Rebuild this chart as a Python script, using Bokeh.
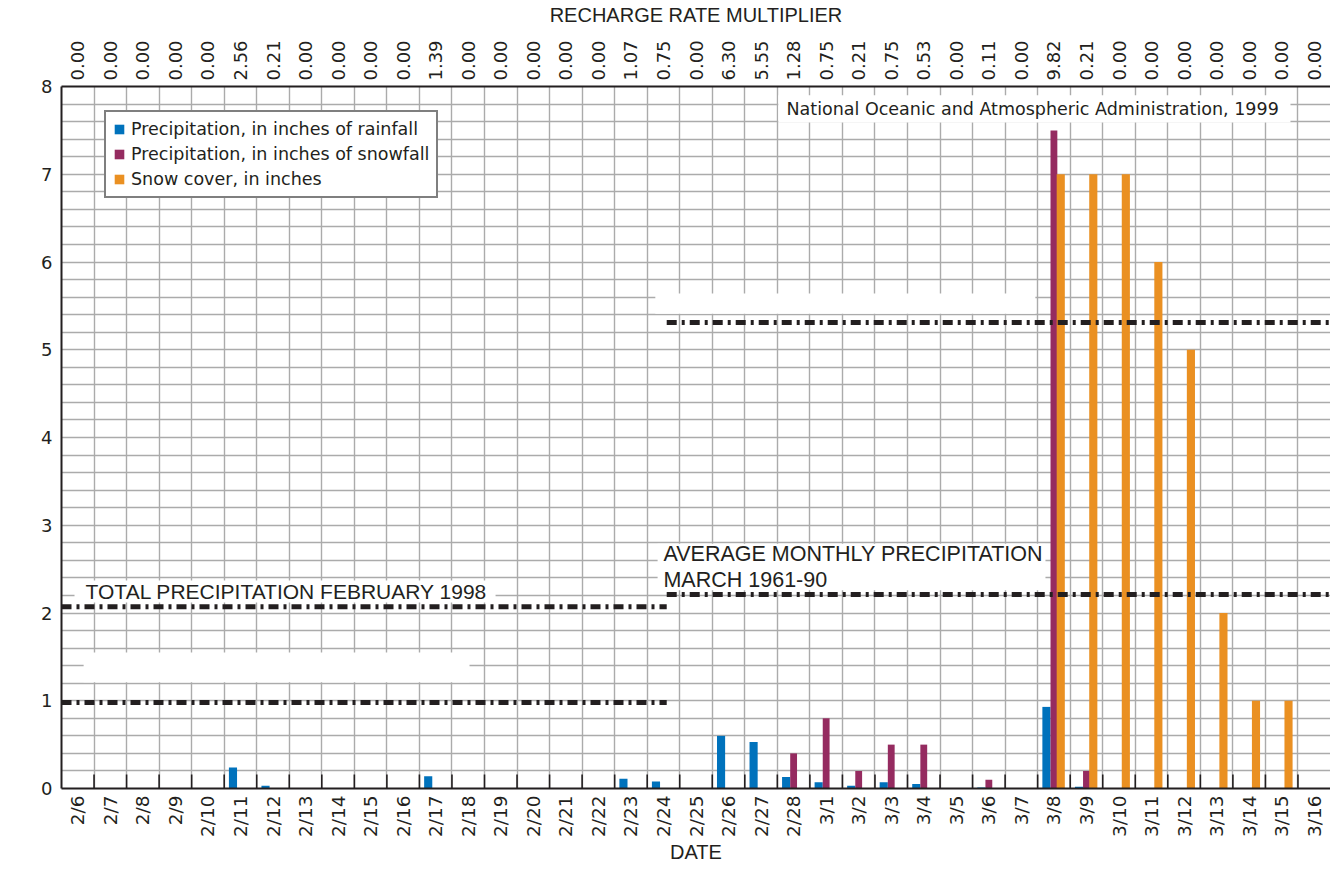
import numpy as np
from math import pi
from bokeh.plotting import figure
from bokeh.models import (Range1d, FixedTicker, CustomJSTickFormatter, LinearAxis,
                          BoxAnnotation, Label, ColumnDataSource)
from bokeh.transform import dodge
from bokeh.embed import file_html
from bokeh.resources import INLINE

# ---------------- data ----------------
dates = ["2/6", "2/7", "2/8", "2/9", "2/10", "2/11", "2/12", "2/13", "2/14", "2/15",
         "2/16", "2/17", "2/18", "2/19", "2/20", "2/21", "2/22", "2/23", "2/24", "2/25",
         "2/26", "2/27", "2/28", "3/1", "3/2", "3/3", "3/4", "3/5", "3/6", "3/7",
         "3/8", "3/9", "3/10", "3/11", "3/12", "3/13", "3/14", "3/15", "3/16"]

recharge = ["0.00", "0.00", "0.00", "0.00", "0.00", "2.56", "0.21", "0.00", "0.00", "0.00",
            "0.00", "1.39", "0.00", "0.00", "0.00", "0.00", "0.00", "1.07", "0.75", "0.00",
            "6.30", "5.55", "1.28", "0.75", "0.21", "0.75", "0.53", "0.00", "0.11", "0.00",
            "9.82", "0.21", "0.00", "0.00", "0.00", "0.00", "0.00", "0.00", "0.00"]

rainfall = [0, 0, 0, 0, 0, 0.24, 0.03, 0, 0, 0,
            0, 0.14, 0, 0, 0, 0, 0, 0.11, 0.08, 0,
            0.60, 0.53, 0.13, 0.07, 0.03, 0.07, 0.05, 0, 0.01, 0,
            0.93, 0.02, 0, 0, 0, 0, 0, 0, 0]

snowfall = [0, 0, 0, 0, 0, 0, 0, 0, 0, 0,
            0, 0, 0, 0, 0, 0, 0, 0, 0, 0,
            0, 0, 0.4, 0.8, 0.2, 0.5, 0.5, 0, 0.1, 0,
            7.5, 0.2, 0, 0, 0, 0, 0, 0, 0]

snow_cover = [0, 0, 0, 0, 0, 0, 0, 0, 0, 0,
              0, 0, 0, 0, 0, 0, 0, 0, 0, 0,
              0, 0, 0, 0, 0, 0, 0, 0, 0, 0,
              7, 7, 7, 6, 5, 2, 1, 1, 0]

# reference (dash-dot) levels, in inches, and their date-span (in day cells)
ref_levels = [0.98, 2.07, 2.21, 5.31]
ref_start = [0, 0, 18.6, 18.6]
ref_end = [18.6, 18.6, 39, 39]

# ---------------- styles ----------------
BLUE = "#0072BC"
PURPLE = "#952B60"
ORANGE = "#EA9022"
INK = "#231f20"
GRID = "#ababab"
WIDE = "DejaVu Sans"
NARROW = "Liberation Sans"

n = len(dates)
idx = np.arange(n)

p = figure(width=1330, height=869, output_backend="svg", toolbar_location=None,
           x_range=Range1d(0, n), y_range=Range1d(0, 8),
           min_border_left=61, min_border_right=0, min_border_top=86, min_border_bottom=81,
           background_fill_color="white", border_fill_color="white")
p.outline_line_color = None

# grid
p.xgrid.ticker = FixedTicker(ticks=list(range(n + 1)))
p.ygrid.ticker = FixedTicker(ticks=[round(i * 0.2, 1) for i in range(41)])
for g in (p.xgrid, p.ygrid):
    g.grid_line_color = GRID
    g.grid_line_width = 1.4

# bottom axis (dates)
cell_centers = list(idx + 0.5)
xb = p.below[0]
xb.ticker = FixedTicker(ticks=cell_centers)
xb.formatter = CustomJSTickFormatter(args=dict(labels=dates),
                                     code="return labels[Math.floor(tick)];")
xb.major_label_orientation = pi / 2
xb.major_tick_in = 0
xb.major_tick_out = 0
xb.minor_tick_line_color = None
xb.major_label_standoff = 7
xb.major_label_text_font = WIDE
xb.major_label_text_font_size = "18.5px"
xb.major_label_text_color = INK
xb.axis_line_color = INK
xb.axis_line_width = 2
xb.axis_label = "DATE"
xb.axis_label_standoff = 1
xb.axis_label_text_font = NARROW
xb.axis_label_text_font_size = "20px"
xb.axis_label_text_font_style = "normal"
xb.axis_label_text_color = INK

# top axis (recharge multiplier)
xt = LinearAxis(ticker=FixedTicker(ticks=cell_centers),
                formatter=CustomJSTickFormatter(args=dict(labels=recharge),
                                                code="return labels[Math.floor(tick)];"))
xt.major_label_orientation = pi / 2
xt.major_tick_in = 0
xt.major_tick_out = 0
xt.minor_tick_line_color = None
xt.major_label_standoff = 6
xt.major_label_text_font = WIDE
xt.major_label_text_font_size = "18px"
xt.major_label_text_color = INK
xt.axis_line_color = INK
xt.axis_line_width = 2
xt.axis_label = "RECHARGE RATE MULTIPLIER"
xt.axis_label_standoff = 11
xt.axis_label_text_font = NARROW
xt.axis_label_text_font_size = "20px"
xt.axis_label_text_font_style = "normal"
xt.axis_label_text_color = INK
p.add_layout(xt, "above")

# left axis
ya = p.left[0]
ya.ticker = FixedTicker(ticks=list(range(9)))
ya.major_tick_in = 0
ya.major_tick_out = 0
ya.minor_tick_line_color = None
ya.major_label_standoff = 9
ya.major_label_text_font = WIDE
ya.major_label_text_font_size = "18px"
ya.major_label_text_color = INK
ya.axis_line_color = INK
ya.axis_line_width = 2

# white blank / label boxes (drawn over the grid, below the data)
boxes = [
    (22.03, 37.77, 7.59, 7.90),   # NOAA credit
    (0.40, 13.34, 2.12, 2.37),    # total precipitation label
    (18.32, 30.24, 2.26, 2.79),   # average monthly label
    (18.25, 29.93, 5.41, 5.64),   # blank
    (0.68, 12.54, 1.21, 1.55),    # blank
]
for l, r, b, t in boxes:
    p.add_layout(BoxAnnotation(left=l, right=r, bottom=b, top=t, fill_color="white",
                               fill_alpha=1, line_color=None, level="underlay"))

# bars
src = ColumnDataSource(dict(x=idx, rain=rainfall, snow=snowfall, cover=snow_cover))
p.vbar(x=dodge("x", 0.27, range=p.x_range), top="rain", width=0.25, source=src,
       fill_color=BLUE, line_color=None, legend_label="Precipitation, in inches of rainfall")
p.vbar(x=dodge("x", 0.50, range=p.x_range), top="snow", width=0.21, source=src,
       fill_color=PURPLE, line_color=None, legend_label="Precipitation, in inches of snowfall")
p.vbar(x=dodge("x", 0.71, range=p.x_range), top="cover", width=0.25, source=src,
       fill_color=ORANGE, line_color=None, legend_label="Snow cover, in inches")

# inside ticks on date axis
edges = list(range(1, n))
p.segment(x0=edges, y0=[0] * len(edges), x1=edges, y1=[0.16] * len(edges),
          line_color=INK, line_width=1.6)

# dash-dot reference lines
p.segment(x0=ref_start, y0=ref_levels, x1=ref_end, y1=ref_levels,
          line_color=INK, line_width=5, line_dash="10 5 3 5", level="overlay")

# texts
def lab(x, y, text, font, size, align="left", baseline="middle", angle=0):
    p.add_layout(Label(x=x, y=y, text=text, text_font=font, text_font_size=size,
                       text_color=INK, text_align=align, text_baseline=baseline,
                       angle=angle))

lab(22.28, 7.74, "National Oceanic and Atmospheric Administration, 1999", WIDE, "17.5px")
lab(0.74, 2.24, "TOTAL PRECIPITATION FEBRUARY 1998", NARROW, "21px")
lab(18.5, 2.67, "AVERAGE MONTHLY PRECIPITATION", NARROW, "21.5px")
lab(18.5, 2.38, "MARCH 1961-90", NARROW, "21.5px")
lab(-1.26, 3.8, "PRECIPITATION OR SNOW COVER, IN INCHES", WIDE, "19.5px",
    align="center", baseline="middle", angle=pi / 2)

# legend
lg = p.legend[0]
lg.location = (43, 590)
lg.border_line_color = "black"
lg.border_line_width = 2
lg.background_fill_color = "white"
lg.background_fill_alpha = 1
lg.label_text_font = WIDE
lg.label_text_font_size = "17.5px"
lg.label_text_color = INK
lg.glyph_width = 12
lg.glyph_height = 12
lg.label_height = 20
lg.label_standoff = 6
lg.spacing = 5
lg.padding = 7
lg.margin = 0

open("out.html", "w").write(file_html(p, INLINE))
